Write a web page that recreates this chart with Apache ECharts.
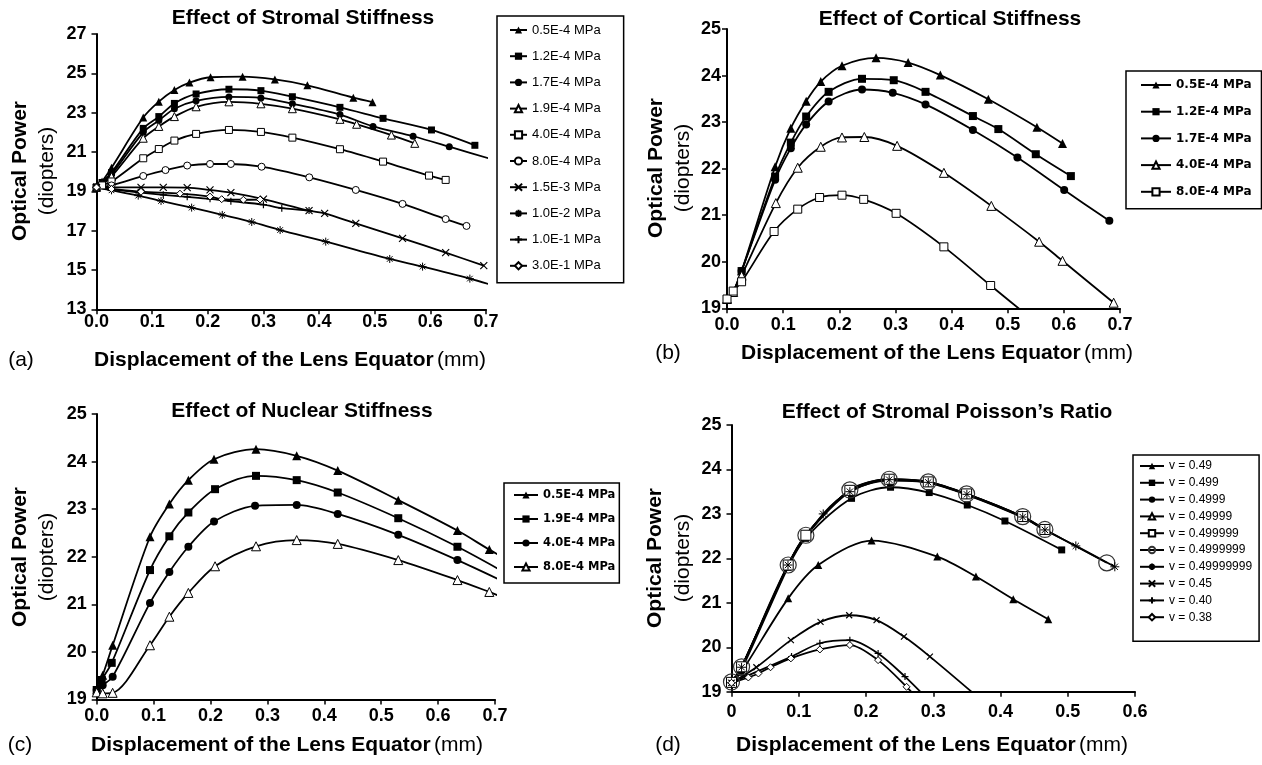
<!DOCTYPE html>
<html>
<head>
<meta charset="utf-8">
<title>Optical power vs displacement of the lens equator</title>
<script src="https://cdn.jsdelivr.net/npm/echarts@6.0.0/dist/echarts.min.js"></script>
<style>
  html, body { margin: 0; padding: 0; background: #fff; }
  .panel { position: absolute; left: 0; top: 0; width: 1262px; height: 765px; }
</style>
</head>
<body>
<div id="pa" class="panel"></div>
<div id="pb" class="panel"></div>
<div id="pc" class="panel"></div>
<div id="pd" class="panel"></div>
<script>
// ---- (a) Effect of Stromal Stiffness : [displacement mm, optical power D]
const aNames = ['0.5E-4 MPa', '1.2E-4 MPa', '1.7E-4 MPa', '1.9E-4 MPa', '4.0E-4 MPa',
  '8.0E-4 MPa', '1.5E-3 MPa', '1.0E-2 MPa', '1.0E-1 MPa', '3.0E-1 MPa']
const a05 = [[0, 19.2], [0.01, 19.5], [0.027, 20.2], [0.084, 22.75], [0.112, 23.56], [0.14, 24.15], [0.167, 24.53], [0.205, 24.8], [0.2625, 24.83], [0.3206, 24.69], [0.379, 24.39], [0.4615, 23.76], [0.496, 23.53]]
const a12 = [[0, 19.2], [0.01, 19.45], [0.027, 19.95], [0.084, 22.2], [0.112, 22.8], [0.14, 23.47], [0.179, 23.95], [0.238, 24.19], [0.2955, 24.12], [0.352, 23.81], [0.4375, 23.27], [0.515, 22.71], [0.602, 22.12], [0.68, 21.34]]
const a17 = [[0, 19.2], [0.01, 19.4], [0.027, 19.85], [0.084, 22.0], [0.112, 22.6], [0.14, 23.2], [0.179, 23.6], [0.238, 23.8], [0.2955, 23.75], [0.352, 23.45], [0.4375, 22.9], [0.497, 22.3], [0.569, 21.8], [0.634, 21.27], [0.72, 20.55]]
const a19 = [[0, 19.2], [0.01, 19.35], [0.027, 19.75], [0.084, 21.7], [0.112, 22.3], [0.14, 22.8], [0.179, 23.3], [0.238, 23.55], [0.2955, 23.45], [0.352, 23.2], [0.4375, 22.66], [0.4675, 22.41], [0.53, 21.86], [0.572, 21.44]]
const a40 = [[0, 19.2], [0.01, 19.3], [0.027, 19.5], [0.084, 20.68], [0.112, 21.15], [0.14, 21.58], [0.179, 21.92], [0.238, 22.12], [0.2955, 22.02], [0.352, 21.73], [0.4375, 21.14], [0.515, 20.51], [0.5976, 19.8], [0.6275, 19.58]]
const a80 = [[0, 19.2], [0.027, 19.3], [0.084, 19.78], [0.124, 20.08], [0.163, 20.31], [0.204, 20.39], [0.2415, 20.39], [0.2967, 20.25], [0.3824, 19.71], [0.466, 19.07], [0.55, 18.36], [0.6275, 17.59], [0.665, 17.24]]
const a15e3 = [[0, 19.2], [0.027, 19.2], [0.08, 19.2], [0.12, 19.2], [0.163, 19.19], [0.204, 19.07], [0.2415, 18.93], [0.3, 18.6], [0.382, 18.02], [0.41, 17.88], [0.466, 17.37], [0.55, 16.61], [0.6275, 15.88], [0.696, 15.22]]
const a1e2 = [[0, 19.2], [0.027, 19.05], [0.075, 18.78], [0.116, 18.51], [0.171, 18.17], [0.226, 17.8], [0.279, 17.44], [0.33, 17.03], [0.412, 16.44], [0.527, 15.56], [0.586, 15.17], [0.671, 14.56], [0.72, 14.15]]
const a1e1 = [[0, 19.2], [0.027, 19.1], [0.075, 18.95], [0.12, 18.82], [0.163, 18.72], [0.204, 18.62], [0.2415, 18.5], [0.3, 18.32], [0.333, 18.14], [0.382, 18.02]]
const a3e1 = [[0, 19.2], [0.027, 19.12], [0.08, 18.98], [0.15, 18.88], [0.204, 18.73], [0.225, 18.6], [0.264, 18.57], [0.294, 18.58]]

// ---- (b) Effect of Cortical Stiffness
const bNames = ['0.5E-4 MPa', '1.2E-4 MPa', '1.7E-4 MPa', '4.0E-4 MPa', '8.0E-4 MPa']
const b05 = [[0, 19.2], [0.011, 19.35], [0.026, 19.8], [0.0857, 22.04], [0.1137, 22.87], [0.141, 23.45], [0.167, 23.87], [0.2048, 24.21], [0.2655, 24.38], [0.3226, 24.28], [0.38, 24.01], [0.4655, 23.49], [0.552, 22.89], [0.5976, 22.54]]
const b12 = [[0, 19.2], [0.011, 19.35], [0.026, 19.8], [0.0857, 21.83], [0.1137, 22.56], [0.141, 23.12], [0.181, 23.65], [0.2405, 23.93], [0.297, 23.9], [0.3536, 23.65], [0.438, 23.13], [0.4833, 22.85], [0.55, 22.31], [0.6125, 21.84]]
const b17 = [[0, 19.2], [0.011, 19.35], [0.026, 19.8], [0.0857, 21.76], [0.1137, 22.44], [0.141, 22.95], [0.181, 23.44], [0.2405, 23.7], [0.2952, 23.63], [0.3536, 23.38], [0.438, 22.83], [0.5173, 22.24], [0.6006, 21.54], [0.681, 20.88]]
const b40 = [[0, 19.2], [0.011, 19.35], [0.026, 19.7], [0.087, 21.26], [0.126, 22.02], [0.167, 22.47], [0.2048, 22.67], [0.2446, 22.68], [0.303, 22.49], [0.3863, 21.91], [0.4708, 21.2], [0.556, 20.43], [0.5976, 20.02], [0.6887, 19.12]]
const b80 = [[0, 19.2], [0.011, 19.37], [0.026, 19.57], [0.0839, 20.65], [0.126, 21.13], [0.1649, 21.38], [0.2048, 21.43], [0.2435, 21.34], [0.3012, 21.04], [0.3863, 20.32], [0.4696, 19.49], [0.55, 18.7]]

// ---- (c) Effect of Nuclear Stiffness
const cNames = ['0.5E-4 MPa', '1.9E-4 MPa', '4.0E-4 MPa', '8.0E-4 MPa']
const c05 = [[0, 19.2], [0.0105, 19.51], [0.0281, 20.14], [0.0937, 22.42], [0.1277, 23.11], [0.1611, 23.61], [0.2062, 24.05], [0.28, 24.26], [0.3515, 24.12], [0.4236, 23.81], [0.53, 23.19], [0.634, 22.55], [0.69, 22.15], [0.72, 21.95]]
const c19 = [[0, 19.2], [0.0088, 19.41], [0.0264, 19.77], [0.0937, 21.72], [0.1277, 22.43], [0.1611, 22.93], [0.208, 23.42], [0.28, 23.7], [0.3515, 23.61], [0.4236, 23.35], [0.53, 22.81], [0.634, 22.21], [0.72, 21.65]]
const c40 = [[0, 19.2], [0.0105, 19.3], [0.0281, 19.48], [0.0937, 21.03], [0.1277, 21.68], [0.1611, 22.21], [0.2062, 22.74], [0.2783, 23.07], [0.3515, 23.09], [0.4236, 22.9], [0.53, 22.46], [0.634, 21.93], [0.72, 21.45]]
const c80 = [[0, 19.15], [0.0105, 19.13], [0.028, 19.14], [0.0937, 20.14], [0.1277, 20.74], [0.1611, 21.24], [0.208, 21.8], [0.28, 22.22], [0.3515, 22.35], [0.4236, 22.27], [0.53, 21.93], [0.634, 21.51], [0.69, 21.26], [0.72, 21.12]]

// ---- (d) Effect of Stromal Poisson's Ratio
const dNames = ['v = 0.49', 'v = 0.499', 'v = 0.4999', 'v = 0.49999', 'v = 0.499999',
  'v = 0.4999999', 'v = 0.49999999', 'v = 0.45', 'v = 0.40', 'v = 0.38']
const d49 = [[0, 19.2], [0.015, 19.45], [0.0843, 21.1], [0.129, 21.85], [0.2083, 22.4], [0.306, 22.04], [0.3635, 21.59], [0.419, 21.08], [0.471, 20.63]]
const d499 = [[0, 19.2], [0.015, 19.5], [0.084, 21.8], [0.11, 22.45], [0.1785, 23.35], [0.2365, 23.6], [0.294, 23.48], [0.3506, 23.2], [0.4066, 22.84], [0.491, 22.19]]
const d4999 = [[0, 19.2], [0.015, 19.55], [0.084, 21.83], [0.11, 22.5], [0.176, 23.5], [0.2345, 23.75], [0.2926, 23.7], [0.35, 23.43], [0.433, 22.92], [0.466, 22.63]]
const d49999 = [[0, 19.2], [0.015, 19.55], [0.084, 21.85], [0.11, 22.52], [0.176, 23.52], [0.2345, 23.77], [0.2926, 23.71], [0.35, 23.44], [0.433, 22.93], [0.466, 22.64]]
const d499999 = [[0, 19.21], [0.015, 19.56], [0.0843, 21.85], [0.1106, 22.52], [0.176, 23.53], [0.2345, 23.78], [0.2926, 23.72], [0.3496, 23.45], [0.433, 22.94], [0.466, 22.65]]
const d4999999 = [[0, 19.22], [0.015, 19.56], [0.0843, 21.85], [0.1106, 22.52], [0.176, 23.54], [0.2345, 23.78], [0.2926, 23.72], [0.3496, 23.45], [0.433, 22.94], [0.466, 22.65], [0.558, 21.9]]
const d49999999 = [[0, 19.2], [0.015, 19.55], [0.084, 21.85], [0.1364, 23.0], [0.176, 23.5], [0.2345, 23.77], [0.2926, 23.71], [0.35, 23.44], [0.433, 22.93], [0.466, 22.64], [0.512, 22.28], [0.57, 21.81]]
const d45 = [[0, 19.2], [0.037, 19.55], [0.0883, 20.16], [0.1324, 20.57], [0.175, 20.72], [0.2157, 20.61], [0.2564, 20.24], [0.295, 19.79], [0.37, 18.83]]
const d40 = [[0, 19.2], [0.022, 19.35], [0.0893, 19.79], [0.1314, 20.09], [0.176, 20.16], [0.218, 19.86], [0.258, 19.34], [0.295, 18.78]]
const d38 = [[0, 19.2], [0.025, 19.32], [0.04, 19.41], [0.058, 19.55], [0.0883, 19.75], [0.1314, 19.95], [0.176, 20.05], [0.218, 19.71], [0.2603, 19.11], [0.29, 18.62]]

const FF = '"Liberation Sans", Arial, sans-serif'

// marker styles (Excel-like black & white markers)
const openStyle = { color: '#fff', borderColor: '#000', borderWidth: 1 }
const strokeStyle = { color: '#000', borderColor: '#000', borderWidth: 1.2 }
const MARK = {
  triF: ['triangle', { color: '#000' }],
  sqF: ['rect', { color: '#000' }],
  cirF: ['circle', { color: '#000' }],
  triO: ['triangle', openStyle],
  sqO: ['rect', openStyle],
  cirO: ['circle', openStyle],
  dia: ['diamond', openStyle],
  cross: ['path://M0,0L10,10M10,0L0,10', strokeStyle],
  star: ['path://M5,0L5,10M0,5L10,5M1.5,1.5L8.5,8.5M8.5,1.5L1.5,8.5', { color: '#000', borderColor: '#000', borderWidth: 1 }],
  plus: ['path://M5,0L5,10M0,5L10,5', strokeStyle],
  bigO: ['circle', { color: 'rgba(255,255,255,0)', borderColor: '#333', borderWidth: 1.2 }],
}

const line = (name, data, mark, size) => ({
  type: 'line',
  name: name,
  data: data,
  symbol: MARK[mark][0],
  symbolSize: size,
  showAllSymbol: true,
  smooth: 0.3,
  clip: true,
  lineStyle: { color: '#000', width: 1.8 },
  itemStyle: MARK[mark][1],
  emphasis: { disabled: true },
})

const xAxis = (max, margin, fmt) => ({
  type: 'value',
  min: 0,
  max: max,
  interval: 0.1,
  axisLine: { show: true, onZero: false, lineStyle: { color: '#000', width: 2 } },
  axisTick: { show: true, length: 5, lineStyle: { color: '#000', width: 1.5 } },
  splitLine: { show: false },
  axisLabel: { color: '#000', fontFamily: FF, fontWeight: 'bold', fontSize: 18, margin: margin, formatter: fmt },
})

const yAxis = (min, max, step, margin) => ({
  type: 'value',
  min: min,
  max: max,
  interval: step,
  axisLine: { show: true, onZero: false, lineStyle: { color: '#000', width: 2 } },
  axisTick: { show: true, length: 5, lineStyle: { color: '#000', width: 1.5 } },
  splitLine: { show: false },
  axisLabel: { color: '#000', fontFamily: FF, fontWeight: 'bold', fontSize: 18, margin: margin },
})

// titles, axis titles and panel letters
const texts = (t, yName, xName, letter) => [
  { type: 'text', x: t[0], y: t[1], style: { text: t[2], align: 'center', verticalAlign: 'middle', font: 'bold 21px ' + FF, fill: '#000' } },
  { type: 'text', x: yName[0], y: yName[2], rotation: Math.PI / 2, style: { text: 'Optical Power', align: 'center', verticalAlign: 'middle', font: 'bold 21px ' + FF, fill: '#000' } },
  { type: 'text', x: yName[1], y: yName[2], rotation: Math.PI / 2, style: { text: '(diopters)', align: 'center', verticalAlign: 'middle', font: '21px ' + FF, fill: '#000' } },
  {
    type: 'text', x: xName[0], y: xName[1],
    style: {
      text: '{b|Displacement of the Lens Equator} {r|(mm)}', align: 'center', verticalAlign: 'middle',
      rich: { b: { fontFamily: FF, fontWeight: 'bold', fontSize: 21, fill: '#000' }, r: { fontFamily: FF, fontSize: 21, fill: '#000' } },
    },
  },
  { type: 'text', x: letter[0], y: letter[1], style: { text: letter[2], align: 'center', verticalAlign: 'middle', font: '21px ' + FF, fill: '#000' } },
]

const legendBox = (names, o) => ({
  orient: 'vertical',
  left: o.left,
  top: o.top,
  itemWidth: o.itemWidth,
  itemHeight: o.itemHeight,
  itemGap: o.itemGap,
  padding: o.padding,
  borderColor: '#000',
  borderWidth: 1.5,
  selectedMode: false,
  textStyle: { color: '#000', fontFamily: o.font, fontWeight: o.weight, fontSize: o.size, lineHeight: o.lineHeight },
  data: names,
})

const fmt1 = (v) => v.toFixed(1)
const fmtD = (v) => (v === 0 ? '0' : v.toFixed(1))

const panels = {
  pa: {
    grid: { left: 96.5, top: 34, width: 389.5, height: 275.3, outerBoundsMode: 'none' },
    xAxis: xAxis(0.7, 4, fmt1),
    yAxis: yAxis(13, 27, 2, 10),
    legend: legendBox(aNames, { left: 497, top: 16, itemWidth: 17, itemHeight: 9, itemGap: 12.2, padding: [7, 23, 10, 12], font: FF, weight: 'normal', size: 13, lineHeight: 14 }),
    graphic: texts([303, 18, 'Effect of Stromal Stiffness'], [20, 47, 171], [290, 360], [21, 360, '(a)']),
    series: [
      line(aNames[0], a05, 'triF', 8),
      line(aNames[1], a12, 'sqF', 7),
      line(aNames[2], a17, 'cirF', 7),
      line(aNames[3], a19, 'triO', 8),
      line(aNames[4], a40, 'sqO', 7),
      line(aNames[5], a80, 'cirO', 7),
      line(aNames[6], a15e3, 'cross', 7),
      line(aNames[7], a1e2, 'star', 8),
      line(aNames[8], a1e1, 'plus', 7),
      line(aNames[9], a3e1, 'dia', 7),
    ],
  },
  pb: {
    grid: { left: 727, top: 29, width: 393, height: 279.3, outerBoundsMode: 'none' },
    xAxis: xAxis(0.7, 8, fmt1),
    yAxis: yAxis(19, 25, 1, 6),
    legend: legendBox(bNames, { left: 1126, top: 71, itemWidth: 30, itemHeight: 9, itemGap: 12.7, padding: [7, 10, 10, 14], font: '"DejaVu Sans", sans-serif', weight: 'bold', size: 12, lineHeight: 14 }),
    graphic: texts([950, 19, 'Effect of Cortical Stiffness'], [656, 683.5, 168], [937, 353], [668, 353, '(b)']),
    series: [
      line(bNames[0], b05, 'triF', 9),
      line(bNames[1], b12, 'sqF', 8),
      line(bNames[2], b17, 'cirF', 8),
      line(bNames[3], b40, 'triO', 9),
      line(bNames[4], b80, 'sqO', 8),
    ],
  },
  pc: {
    grid: { left: 96.7, top: 414, width: 398.3, height: 285.5, outerBoundsMode: 'none' },
    xAxis: xAxis(0.7, 8, fmt1),
    yAxis: yAxis(19, 25, 1, 10),
    legend: legendBox(cNames, { left: 504, top: 483, itemWidth: 24, itemHeight: 9, itemGap: 10, padding: [5, 4, 9, 9], font: '"DejaVu Sans", sans-serif', weight: 'bold', size: 11.5, lineHeight: 14 }),
    graphic: texts([302, 411, 'Effect of Nuclear Stiffness'], [20, 47, 557], [287, 745], [20, 745, '(c)']),
    series: [
      line(cNames[0], c05, 'triF', 9),
      line(cNames[1], c19, 'sqF', 8),
      line(cNames[2], c40, 'cirF', 8),
      line(cNames[3], c80, 'triO', 9),
    ],
  },
  pd: {
    grid: { left: 731.5, top: 425, width: 403.5, height: 266.7, outerBoundsMode: 'none' },
    xAxis: xAxis(0.6, 11, fmtD),
    yAxis: yAxis(19, 25, 1, 10),
    legend: legendBox(dNames, { left: 1133, top: 455, itemWidth: 24, itemHeight: 8, itemGap: 4.8, padding: [5, 7, 18, 6], font: FF, weight: 'normal', size: 12, lineHeight: 12 }),
    graphic: texts([947, 412, 'Effect of Stromal Poisson\u2019s Ratio'], [655, 683.5, 558], [932, 745], [668, 745, '(d)']),
    series: [
      line(dNames[0], d49, 'triF', 8),
      line(dNames[1], d499, 'sqF', 7),
      line(dNames[2], d4999, 'cirF', 7),
      line(dNames[3], d49999, 'triO', 8),
      line(dNames[4], d499999, 'sqO', 10),
      line(dNames[5], d4999999, 'bigO', 16),
      line(dNames[6], d49999999, 'star', 9),
      line(dNames[7], d45, 'cross', 6),
      line(dNames[8], d40, 'plus', 7),
      line(dNames[9], d38, 'dia', 7),
    ],
  },
}

Object.keys(panels).forEach((id) => {
  const chart = echarts.init(document.getElementById(id), null, { renderer: 'canvas' })
  chart.setOption(Object.assign({ animation: false, backgroundColor: 'transparent' }, panels[id]))
})
</script>
</body>
</html>
